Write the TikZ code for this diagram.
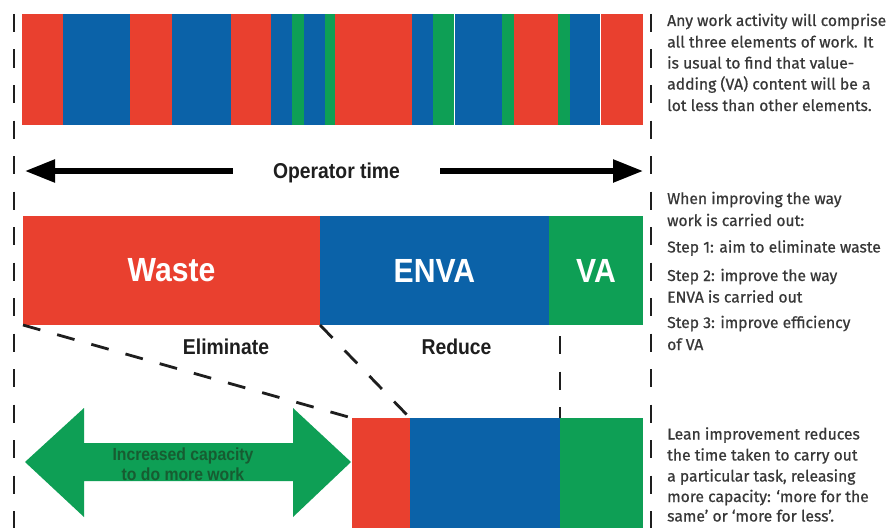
\documentclass[tikz,border=0pt]{standalone}
\usepackage{fontspec}
\setmainfont{Liberation Sans}
\newfontfamily\condfont[FakeStretch=0.9]{Liberation Sans}
\newfontfamily\notefont[FakeBold=0.6]{Fira Sans}
\usetikzlibrary{arrows.meta}
\definecolor{wred}{HTML}{E9402F}
\definecolor{wblue}{HTML}{0B62A8}
\definecolor{wgreen}{HTML}{0E9F55}
\definecolor{capgreen}{HTML}{175C31}
\definecolor{ink}{HTML}{1E1E1E}
\definecolor{notegrey}{HTML}{383838}

\begin{document}
\begin{tikzpicture}[x=1pt,y=-1pt,
  seg/.style={draw=none, inner sep=0pt, outer sep=0pt},
  barlabel/.style={text=white, font=\condfont\bfseries\fontsize{33.5}{33.5}\selectfont},
  caption/.style={text=ink, font=\condfont\bfseries\fontsize{21.5}{21.5}\selectfont, inner sep=0pt},
  note/.style={text=notegrey, font=\notefont\fontsize{15.7}{15.7}\selectfont, inner sep=0pt, anchor=base west},
  guide/.style={draw=ink, line width=2.8pt, dash pattern=on 18pt off 17.5pt},
  oparrow/.style={draw=black, line width=5.5pt, -{Triangle[length=30pt,width=22pt]}},
]
\useasboundingbox (0,0) rectangle (893,527);
\clip (0,0) rectangle (893,527);
\fill[white] (0,0) rectangle (893,527);

% mixed activity strip: waste, ENVA and VA interleaved
\foreach \a/\b/\c in {22/63/wred, 63/130/wblue, 130/172/wred, 172/231/wblue,
    231/271/wred, 271/292/wblue, 292/304/wgreen, 304/325/wblue, 325/335/wgreen,
    335/412/wred, 412/433/wblue, 433/454/wgreen, 455/502/wblue, 502/514/wgreen,
    514/558/wred, 558/570/wgreen, 570/600/wblue, 601/643/wred}
  \fill[\c] (\a,14) rectangle (\b,125);

% operator time arrow
\node[caption, text height=15pt, text depth=0pt, inner xsep=40pt] (optime) at (336.5,171) {Operator time};
\coordinate (opL) at (25,171);
\coordinate (opR) at (643,171);
\draw[oparrow] (optime.west) -- (opL);
\draw[oparrow] (optime.east) -- (opR);

% the three elements of work, grouped
\node[seg, fill=wred,   minimum width=297pt, minimum height=109pt, barlabel] (waste) at (171.5,270.5) {Waste};
\node[seg, fill=wblue,  minimum width=229pt, minimum height=109pt, barlabel] (enva)  at (434.5,270.5) {ENVA};
\node[seg, fill=wgreen, minimum width=94pt,  minimum height=109pt, barlabel] (va)    at (596,270.5) {VA};

\node[caption, anchor=base] (elim) at (226,354) {Eliminate};
\node[caption, anchor=base] (reduce) at (456.5,354) {Reduce};

% improved task
\node[seg, fill=wred,   minimum width=58pt,  minimum height=122pt] (cutwaste) at (381,479) {};
\node[seg, fill=wblue,  minimum width=150pt, minimum height=122pt] (cutenva)  at (485,479) {};
\node[seg, fill=wgreen, minimum width=83pt,  minimum height=122pt] (cutva)    at (601.5,479) {};

% released capacity
\fill[wgreen] (25,462) -- (84,408) -- (84,443) -- (293,443) -- (293,408) -- (351,462)
  -- (293,517) -- (293,481) -- (84,481) -- (84,517) -- cycle;
\node[text=capgreen, font=\condfont\bfseries\fontsize{17.5}{20}\selectfont, align=center, inner sep=0pt] (capacity) at (183,464)
  {Increased capacity\\to do more work};

% guide lines
\coordinate (lt) at (14,14);
\coordinate (lb) at (14,530);
\coordinate (rt) at (651,14);
\coordinate (rb) at (651,530);
\coordinate (vt) at (560,336);
\draw[guide] (lt) -- (lb);
\draw[guide] (rt) -- (rb);
\draw[guide] (vt) -- (cutva.north west);
\draw[guide] (waste.south west) -- (cutwaste.north west);
\draw[guide] (waste.south east) -- (cutwaste.north east);

% notes
\node[note] (n1a) at (667,26)    {Any work activity will comprise};
\node[note] (n1b) at (667,47.5)  {all three elements of work. It};
\node[note] (n1c) at (667,68.5)  {is usual to find that value-};
\node[note] (n1d) at (667,89.5)  {adding (VA) content will be a};
\node[note] (n1e) at (667,111)   {lot less than other elements.};

\node[note] (n2a) at (667,204)   {When improving the way};
\node[note] (n2b) at (667,226)   {work is carried out:};
\node[note] (n2c) at (667,252.5) {Step 1: aim to eliminate waste};
\node[note] (n2d) at (667,281)   {Step 2: improve the way};
\node[note] (n2e) at (667,302.5) {ENVA is carried out};
\node[note] (n2f) at (667,328)   {Step 3: improve efficiency};
\node[note] (n2g) at (667,350)   {of VA};

\node[note] (n3a) at (667,439.5) {Lean improvement reduces};
\node[note] (n3b) at (667,460.5) {the time taken to carry out};
\node[note] (n3c) at (667,481.5) {a particular task, releasing};
\node[note] (n3d) at (667,502)   {more capacity: ‘more for the};
\node[note] (n3e) at (667,521.5) {same’ or ‘more for less’.};
\end{tikzpicture}
\end{document}
